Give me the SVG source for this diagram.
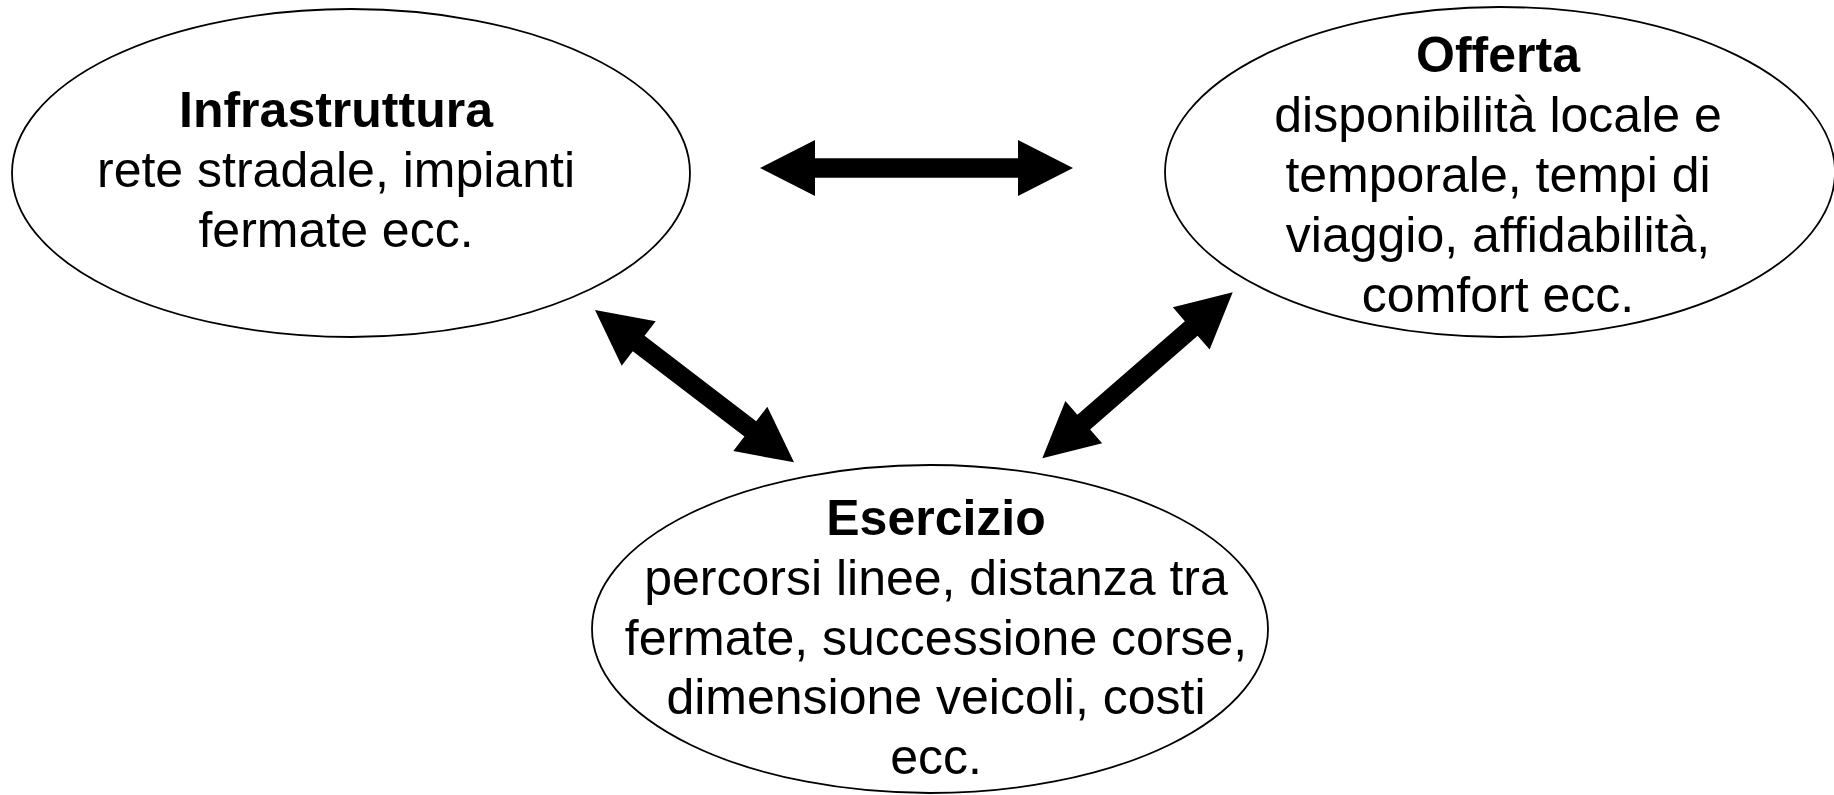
<svg xmlns="http://www.w3.org/2000/svg" width="1834" height="795" viewBox="0 0 1834 795">
  <style>
    .node { fill: #ffffff; stroke: #000000; stroke-width: 1.8; }
    .t { font-family: "Liberation Sans", Arial, sans-serif; font-size: 50px; fill: #000000; text-anchor: middle; }
    .b { font-weight: bold; }
    .arrow { fill: #000000; stroke: none; }
  </style>
  <rect x="0" y="0" width="1834" height="795" fill="#ffffff"/>
  <g id="connectors">
    <polygon class="arrow" transform="translate(595,310) rotate(37.43)" points="0,0 55,-28 55,-9.7 195.6,-9.7 195.6,-28 250.6,0 195.6,28 195.6,9.7 55,9.7 55,28"/>
    <polygon class="arrow" transform="translate(760,168)" points="0,0 55,-28 55,-9.7 258,-9.7 258,-28 313,0 258,28 258,9.7 55,9.7 55,28"/>
    <polygon class="arrow" transform="translate(1042.3,458.3) rotate(-41.08)" points="0,0 55,-28 55,-9.7 197.6,-9.7 197.6,-28 252.6,0 197.6,28 197.6,9.7 55,9.7 55,28"/>
  </g>
  <g id="infrastruttura">
    <ellipse class="node" cx="351" cy="173" rx="339" ry="164"/>
    <text class="t b" x="336" y="127">Infrastruttura</text>
    <text class="t" x="336" y="187">rete stradale, impianti</text>
    <text class="t" x="336" y="247">fermate ecc.</text>
  </g>
  <g id="offerta">
    <ellipse class="node" cx="1500" cy="172" rx="335" ry="165"/>
    <text class="t b" x="1498" y="72">Offerta</text>
    <text class="t" x="1498" y="132">disponibilità locale e</text>
    <text class="t" x="1498" y="192">temporale, tempi di</text>
    <text class="t" x="1498" y="252">viaggio, affidabilità,</text>
    <text class="t" x="1498" y="312">comfort ecc.</text>
  </g>
  <g id="esercizio">
    <ellipse class="node" cx="930" cy="629" rx="338" ry="164"/>
    <text class="t b" x="936" y="535">Esercizio</text>
    <text class="t" x="936" y="595">percorsi linee, distanza tra</text>
    <text class="t" x="936" y="655">fermate, successione corse,</text>
    <text class="t" x="936" y="714">dimensione veicoli, costi</text>
    <text class="t" x="936" y="774">ecc.</text>
  </g>
</svg>
